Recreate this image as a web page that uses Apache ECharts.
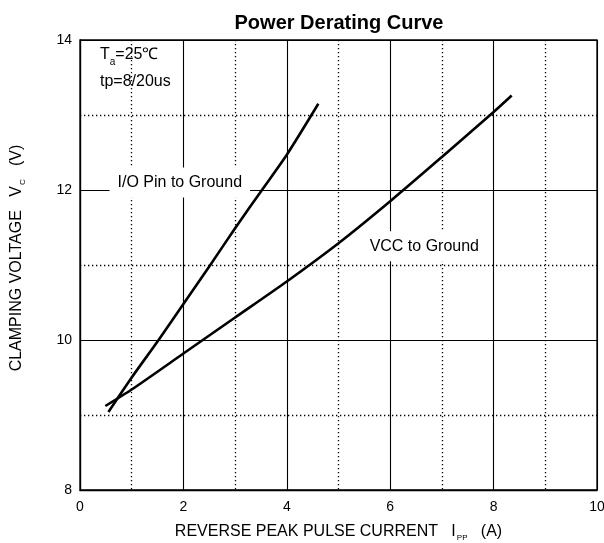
<!DOCTYPE html>
<html>
<head>
<meta charset="utf-8">
<script src="https://cdn.jsdelivr.net/npm/echarts@6/dist/echarts.min.js"></script>
<style>
html,body{margin:0;padding:0;background:#fff;}
#chart{width:604px;height:543px;}
</style>
</head>
<body>
<div id="chart"></div>
<script>
// ---- data ----
const xTicks = [0, 2, 4, 6, 8, 10];
const yTicks = [8, 10, 12, 14];
const ioCurrent = [0.55, 1, 1.52, 2, 2.5, 3, 3.54, 4, 4.61];
const ioVoltage = [9.04, 9.5, 10.0, 10.48, 10.98, 11.49, 12.02, 12.47, 13.15];
const vccCurrent = [0.49, 1, 2, 3, 4, 5, 6, 7, 8, 8.35];
const vccVoltage = [9.12, 9.34, 9.82, 10.3, 10.78, 11.29, 11.85, 12.44, 13.04, 13.26];
const ioLabel = { text: 'I/O Pin to Ground', x: 1.93, y: 12.1 };
const vccLabel = { text: 'VCC to Ground', x: 6.66, y: 11.25 };
const titleText = 'Power Derating Curve';

const FONT = 'Liberation Sans, Arial, Helvetica, sans-serif';
const pair = (xs, ys) => xs.map((x, i) => [x, ys[i]]);

const chart = echarts.init(document.getElementById('chart'), null, { renderer: 'canvas' });

const markFor = (lab) => ({
  symbol: 'circle',
  symbolSize: 1,
  itemStyle: { color: 'rgba(0,0,0,0)' },
  data: [{ coord: [lab.x, lab.y] }],
  label: {
    show: true,
    position: 'inside',
    formatter: lab.text,
    color: '#000',
    fontFamily: FONT,
    fontSize: 16,
    backgroundColor: '#fff',
    padding: [7, 8, 7, 8]
  }
});

const subRich = {
  a: { fontFamily: FONT, fontSize: 16, color: '#000', lineHeight: 16, verticalAlign: 'top' },
  s: { fontFamily: FONT, fontSize: 8, color: '#000', lineHeight: 10, verticalAlign: 'top', padding: [10, 0, 0, 1] }
};

const option = {
  backgroundColor: '#fff',
  animation: false,
  title: {
    text: titleText,
    left: 334,
    top: 8,
    textAlign: 'center',
    textStyle: { fontFamily: FONT, fontSize: 20, fontWeight: 'bold', color: '#000' }
  },
  grid: {
    left: 80, right: 7, top: 40, bottom: 53,
    outerBoundsMode: 'none',
    containLabel: false,
    show: true, borderColor: '#000', borderWidth: 1.3
  },
  xAxis: {
    type: 'value',
    min: xTicks[0], max: xTicks[xTicks.length - 1], interval: 2,
    axisLine: { show: true, lineStyle: { color: '#000', width: 1.3 } },
    axisTick: { show: false },
    axisLabel: { color: '#000', fontFamily: FONT, fontSize: 14, margin: 10 },
    splitLine: { show: true, lineStyle: { color: '#000', width: 1.1 } },
    minorTick: { show: false, splitNumber: 2 },
    minorSplitLine: { show: true, lineStyle: { color: '#000', width: 1.3, type: [1.3, 2.7] } },
    name: '{a|REVERSE PEAK PULSE CURRENT   I}{s|PP}{a|   (A)}',
    nameLocation: 'middle',
    nameGap: 34,
    nameTextStyle: { rich: subRich }
  },
  yAxis: {
    type: 'value',
    min: yTicks[0], max: yTicks[yTicks.length - 1], interval: 2,
    axisLine: { show: true, lineStyle: { color: '#000', width: 1.3 } },
    axisTick: { show: false },
    axisLabel: { color: '#000', fontFamily: FONT, fontSize: 14, margin: 8 },
    splitLine: { show: true, lineStyle: { color: '#000', width: 1.1 } },
    minorTick: { show: false, splitNumber: 2 },
    minorSplitLine: { show: true, lineStyle: { color: '#000', width: 1.3, type: [1.3, 2.7] } },
    name: '{a|CLAMPING VOLTAGE   V}{s|C}{a|   (V)}',
    nameLocation: 'middle',
    nameGap: 55,
    nameTextStyle: { padding: [0, 0, 0, 14], rich: subRich }
  },
  graphic: [
    {
      type: 'text', left: 100, top: 47,
      style: {
        text: '{a|T}{s|a}{a|=25℃}',
        rich: {
          a: { fontFamily: FONT, fontSize: 16, fill: '#000', lineHeight: 16, verticalAlign: 'top' },
          s: { fontFamily: FONT, fontSize: 10, fill: '#000', lineHeight: 10, verticalAlign: 'top', padding: [10, 0, 0, 0] }
        }
      }
    },
    {
      type: 'text', left: 100, top: 74,
      style: { text: 'tp=8/20us', fontFamily: FONT, fontSize: 16, fill: '#000' }
    }
  ],
  series: [
    {
      name: 'I/O Pin to Ground',
      type: 'line',
      data: pair(ioCurrent, ioVoltage),
      showSymbol: false,
      smooth: 0.25,
      lineStyle: { color: '#000', width: 2.6 },
      z: 3,
      markPoint: markFor(ioLabel)
    },
    {
      name: 'VCC to Ground',
      type: 'line',
      data: pair(vccCurrent, vccVoltage),
      showSymbol: false,
      smooth: 0.25,
      lineStyle: { color: '#000', width: 2.6 },
      z: 3,
      markPoint: markFor(vccLabel)
    }
  ]
};
chart.setOption(option);
</script>
</body>
</html>
